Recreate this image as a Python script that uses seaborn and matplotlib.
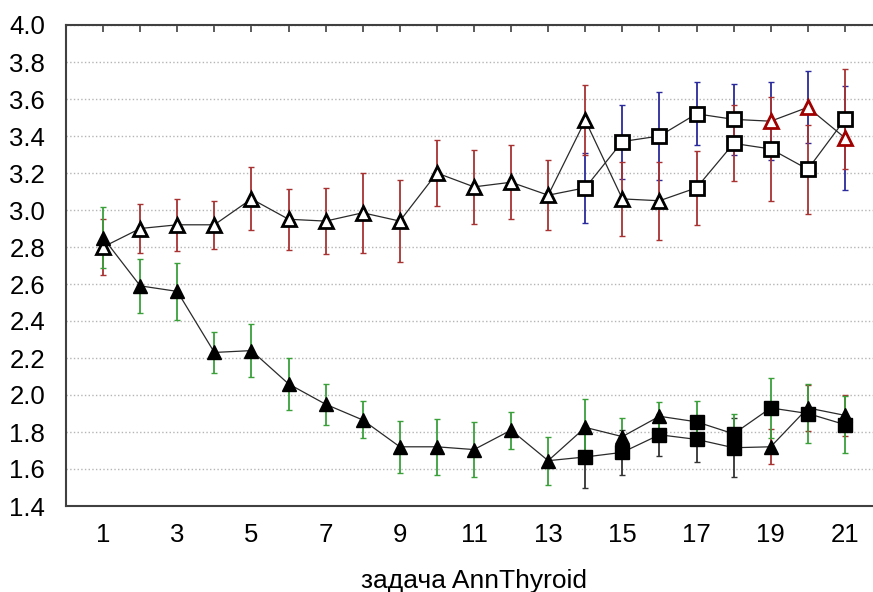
import numpy as np
import matplotlib
matplotlib.use("Agg")
import matplotlib.pyplot as plt
import seaborn as sns

sns.set_style("white")
plt.rcParams['font.family'] = ['Liberation Sans', 'DejaVu Sans']

# Номера задач
tasks = list(range(1, 22))
branch = list(range(13, 22))  # ветка начинается в задаче 13

# Верхняя линия: открытые треугольники (1-16), дальше квадраты
top_a = [2.80, 2.90, 2.92, 2.92, 3.06, 2.95, 2.94, 2.985, 2.94, 3.20, 3.125, 3.15, 3.08,
         3.485, 3.06, 3.05, 3.12, 3.36, 3.33, 3.22, 3.49]
top_a_err = [0.15, 0.13, 0.14, 0.13, 0.17, 0.165, 0.18, 0.215, 0.22, 0.18, 0.20, 0.20, 0.19,
             0.19, 0.20, 0.21, 0.20, 0.205, 0.28, 0.24, 0.27]
# Верхняя ветка: квадраты (14-18), потом красные треугольники
top_b = [3.08, 3.12, 3.37, 3.40, 3.52, 3.49, 3.48, 3.555, 3.39]
top_b_err = [0.0, 0.19, 0.20, 0.24, 0.17, 0.19, 0.21, 0.195, 0.28]

# Нижняя линия: чёрные треугольники (1-16), дальше квадраты
low_a = [2.85, 2.59, 2.56, 2.23, 2.24, 2.06, 1.95, 1.865, 1.72, 1.72, 1.705, 1.81, 1.645,
         1.825, 1.775, 1.885, 1.855, 1.79, 1.93, 1.90, 1.84]
low_a_err = [0.165, 0.145, 0.155, 0.11, 0.145, 0.14, 0.11, 0.10, 0.14, 0.15, 0.15, 0.10, 0.13,
             0.155, 0.10, 0.075, 0.115, 0.105, 0.16, 0.16, 0.155]
# Нижняя ветка: квадраты (14-18), потом треугольники
low_b = [1.645, 1.665, 1.69, 1.785, 1.76, 1.715, 1.72, 1.93, 1.89]
low_b_err = [0.0, 0.165, 0.12, 0.115, 0.12, 0.16, 0.095, 0.125, 0.11]

y_ticks = [1.4, 1.6, 1.8, 2.0, 2.2, 2.4, 2.6, 2.8, 3.0, 3.2, 3.4, 3.6, 3.8, 4.0]

RED = "#a83232"
BLUE = "#2a2a9c"
GREEN = "#3aa03a"
DARK = "#333333"

fig = plt.figure(figsize=(8.73, 5.92), dpi=100)
ax = fig.add_axes([66 / 873, 86 / 592, 816 / 873, 481 / 592])

line_kw = dict(color="#2a2a2a", linewidth=0.9, estimator=None, sort=False, ax=ax, zorder=2)
bar_kw = dict(fmt="none", elinewidth=1.3, capsize=2, capthick=1, zorder=3)
ms = 10.5

# верхняя группа
sns.lineplot(x=branch, y=top_b, **line_kw)
sns.lineplot(x=tasks, y=top_a, **line_kw)
ax.errorbar(branch[1:], top_b[1:], yerr=top_b_err[1:], ecolor=BLUE, **bar_kw)
ax.plot(branch[1:6], top_b[1:6], ls="none", marker="s", ms=ms, mfc="white", mec="black", mew=2, zorder=4)
ax.plot(branch[6:], top_b[6:], ls="none", marker="^", ms=ms, mfc="white", mec="#a00000", mew=2, zorder=4)
ax.errorbar(tasks, top_a, yerr=top_a_err, ecolor=RED, **bar_kw)
ax.plot(tasks[:16], top_a[:16], ls="none", marker="^", ms=ms, mfc="white", mec="black", mew=2, zorder=4)
ax.plot(tasks[16:], top_a[16:], ls="none", marker="s", ms=ms, mfc="white", mec="black", mew=2, zorder=4)

# нижняя группа
sns.lineplot(x=branch, y=low_b, **line_kw)
sns.lineplot(x=tasks, y=low_a, **line_kw)
ax.errorbar(branch[1:6], low_b[1:6], yerr=low_b_err[1:6], ecolor=DARK, **bar_kw)
ax.errorbar(branch[6:], low_b[6:], yerr=low_b_err[6:], ecolor=RED, **bar_kw)
ax.plot(branch[1:6], low_b[1:6], ls="none", marker="s", ms=ms, color="black", zorder=4)
ax.plot(branch[6:], low_b[6:], ls="none", marker="^", ms=ms, color="black", zorder=4)
ax.errorbar(tasks, low_a, yerr=low_a_err, ecolor=GREEN, **bar_kw)
ax.plot(tasks[:16], low_a[:16], ls="none", marker="^", ms=ms, color="black", zorder=4)
ax.plot(tasks[16:], low_a[16:], ls="none", marker="s", ms=ms, color="black", zorder=4)

ax.set_xlim(0, 22)
ax.set_ylim(1.4, 4.0)
ax.set_xticks(tasks)
ax.set_xticklabels([str(t) if t % 2 else "" for t in tasks])
ax.set_yticks(y_ticks)
ax.set_yticklabels([f"{v:.1f}" for v in y_ticks])
ax.tick_params(axis="x", direction="in", length=5, width=1.2, top=True, color="#404040",
               labelsize=18.5, labelcolor="black", pad=12)
ax.tick_params(axis="y", direction="in", length=5, width=1.2, color="#404040",
               labelsize=18.5, labelcolor="black", pad=15)
ax.yaxis.grid(True, linestyle=":", color="#b5b5b5", linewidth=1)
ax.set_axisbelow(True)
for s in ax.spines.values():
    s.set_color("#404040")
    s.set_linewidth(1.5)

ax.set_xlabel("задача AnnThyroid", fontsize=19, labelpad=16, color="black")

fig.savefig("out.png", dpi=100)
